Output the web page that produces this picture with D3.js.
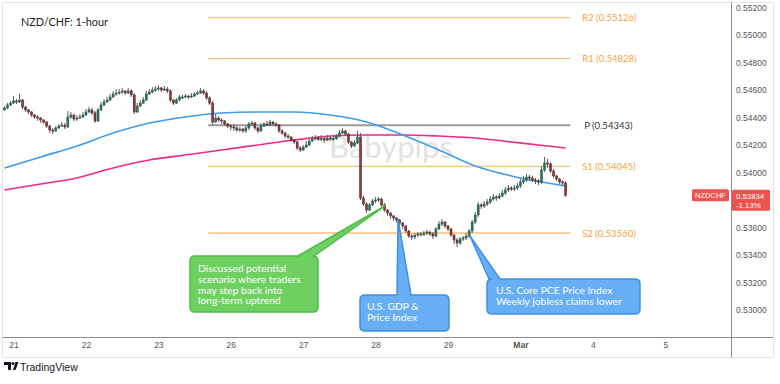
<!DOCTYPE html>
<html><head><meta charset="utf-8">
<script src="https://cdn.jsdelivr.net/npm/d3@7"></script>
<style>body{margin:0;background:#fff;} svg{display:block;}</style>
</head><body>
<svg id="c" width="780" height="384"></svg>
<script>
// ---------------- DATA ----------------
const title = "NZD/CHF: 1-hour";
const firstOpen = 0.54455;
const closes = [
 0.54469,0.54491,0.54505,0.54520,0.54513,0.54527,0.54476,0.54455,0.54440,0.54418,0.54404,0.54396,
 0.54382,0.54367,0.54338,0.54309,0.54302,0.54324,0.54338,0.54345,0.54331,0.54404,0.54418,0.54389,
 0.54396,0.54404,0.54418,0.54440,0.54455,0.54433,0.54375,0.54455,0.54491,0.54513,0.54527,0.54549,
 0.54571,0.54578,0.54585,0.54593,0.54578,0.54593,0.54564,0.54440,0.54484,0.54505,0.54527,0.54571,
 0.54585,0.54600,0.54607,0.54615,0.54600,0.54607,0.54593,0.54527,0.54505,0.54527,0.54549,0.54549,
 0.54556,0.54549,0.54556,0.54571,0.54578,0.54593,0.54578,0.54542,0.54505,0.54367,0.54396,0.54382,
 0.54375,0.54353,0.54338,0.54331,0.54324,0.54309,0.54316,0.54302,0.54324,0.54353,0.54360,0.54324,
 0.54302,0.54338,0.54353,0.54345,0.54367,0.54353,0.54345,0.54302,0.54287,0.54265,0.54258,0.54236,
 0.54222,0.54178,0.54164,0.54185,0.54200,0.54229,0.54244,0.54251,0.54240,0.54246,0.54236,0.54251,
 0.54242,0.54247,0.54265,0.54287,0.54302,0.54280,0.54222,0.54193,0.54215,0.54258,0.53815,0.53771,
 0.53727,0.53764,0.53793,0.53800,0.53807,0.53764,0.53727,0.53705,0.53684,0.53669,0.53655,0.53633,
 0.53611,0.53575,0.53538,0.53531,0.53545,0.53553,0.53548,0.53560,0.53567,0.53553,0.53538,0.53589,
 0.53625,0.53640,0.53611,0.53589,0.53545,0.53509,0.53487,0.53516,0.53524,0.53538,0.53575,0.53640,
 0.53691,0.53764,0.53756,0.53771,0.53785,0.53807,0.53822,0.53815,0.53829,0.53851,0.53873,0.53887,
 0.53880,0.53887,0.53902,0.53931,0.53945,0.53967,0.53960,0.53945,0.53938,0.53931,0.54018,0.54069,
 0.54062,0.54011,0.53975,0.53953,0.53931,0.53924,0.53834];
const highs = [
 0.54484,0.54505,0.54520,0.54556,0.54535,0.54571,0.54535,0.54484,0.54462,0.54447,0.54425,0.54418,
 0.54404,0.54389,0.54375,0.54345,0.54324,0.54338,0.54353,0.54367,0.54360,0.54447,0.54440,0.54425,
 0.54418,0.54425,0.54440,0.54462,0.54476,0.54469,0.54447,0.54469,0.54513,0.54535,0.54549,0.54571,
 0.54593,0.54607,0.54607,0.54615,0.54600,0.54615,0.54607,0.54578,0.54505,0.54527,0.54549,0.54593,
 0.54607,0.54622,0.54629,0.54636,0.54622,0.54629,0.54622,0.54607,0.54535,0.54542,0.54564,0.54564,
 0.54571,0.54564,0.54578,0.54585,0.54593,0.54615,0.54607,0.54593,0.54556,0.54520,0.54425,0.54411,
 0.54396,0.54382,0.54360,0.54353,0.54353,0.54338,0.54331,0.54324,0.54338,0.54367,0.54375,0.54367,
 0.54331,0.54360,0.54367,0.54375,0.54382,0.54375,0.54367,0.54353,0.54316,0.54295,0.54280,0.54265,
 0.54244,0.54229,0.54193,0.54200,0.54229,0.54244,0.54265,0.54273,0.54265,0.54273,0.54258,0.54273,
 0.54265,0.54265,0.54280,0.54309,0.54324,0.54309,0.54287,0.54229,0.54236,0.54302,0.54287,0.53829,
 0.53785,0.53778,0.53807,0.53822,0.53822,0.53815,0.53778,0.53735,0.53713,0.53691,0.53676,0.53662,
 0.53640,0.53618,0.53582,0.53553,0.53560,0.53567,0.53567,0.53575,0.53582,0.53575,0.53567,0.53604,
 0.53647,0.53662,0.53647,0.53618,0.53596,0.53553,0.53524,0.53531,0.53538,0.53560,0.53589,0.53655,
 0.53713,0.53785,0.53778,0.53793,0.53807,0.53829,0.53844,0.53836,0.53851,0.53873,0.53895,0.53909,
 0.53902,0.53909,0.53924,0.53953,0.53975,0.53989,0.53982,0.53975,0.53960,0.53953,0.54047,0.54113,
 0.54098,0.54076,0.54025,0.53982,0.53960,0.53945,0.53938];
const lows = [
 0.54447,0.54462,0.54484,0.54498,0.54498,0.54505,0.54462,0.54440,0.54425,0.54404,0.54389,0.54375,
 0.54360,0.54353,0.54324,0.54287,0.54280,0.54295,0.54316,0.54331,0.54316,0.54324,0.54389,0.54375,
 0.54375,0.54389,0.54396,0.54411,0.54433,0.54418,0.54360,0.54367,0.54447,0.54484,0.54505,0.54520,
 0.54542,0.54556,0.54564,0.54571,0.54564,0.54571,0.54549,0.54425,0.54433,0.54476,0.54498,0.54520,
 0.54564,0.54578,0.54585,0.54593,0.54585,0.54593,0.54578,0.54513,0.54491,0.54498,0.54520,0.54535,
 0.54542,0.54535,0.54542,0.54549,0.54564,0.54571,0.54564,0.54527,0.54491,0.54345,0.54360,0.54367,
 0.54353,0.54338,0.54324,0.54309,0.54302,0.54295,0.54295,0.54287,0.54287,0.54309,0.54338,0.54309,
 0.54287,0.54295,0.54331,0.54338,0.54338,0.54338,0.54331,0.54287,0.54273,0.54251,0.54244,0.54222,
 0.54207,0.54164,0.54149,0.54156,0.54178,0.54193,0.54222,0.54236,0.54229,0.54229,0.54215,0.54229,
 0.54229,0.54229,0.54236,0.54258,0.54280,0.54265,0.54207,0.54178,0.54185,0.54207,0.53800,0.53756,
 0.53705,0.53720,0.53756,0.53778,0.53785,0.53749,0.53713,0.53684,0.53662,0.53647,0.53633,0.53618,
 0.53589,0.53560,0.53524,0.53509,0.53516,0.53531,0.53538,0.53538,0.53545,0.53538,0.53516,0.53531,
 0.53582,0.53611,0.53596,0.53575,0.53531,0.53480,0.53458,0.53473,0.53502,0.53509,0.53524,0.53560,
 0.53625,0.53676,0.53735,0.53742,0.53756,0.53771,0.53793,0.53793,0.53807,0.53822,0.53836,0.53858,
 0.53866,0.53866,0.53873,0.53887,0.53916,0.53931,0.53938,0.53931,0.53916,0.53909,0.53916,0.54004,
 0.54033,0.53996,0.53960,0.53938,0.53916,0.53902,0.53822];

// moving averages sampled every 12 bars
const maIndex = [0,12,24,36,48,60,72,84,96,108,120,132,144,156,168,180,186];
const maBlue  = [0.54033,0.54113,0.54193,0.54287,0.54360,0.54404,0.54433,0.54440,0.54440,0.54418,0.54367,0.54273,0.54164,0.54047,0.53975,0.53924,0.53902];
const maPink  = [0.53873,0.53916,0.53960,0.54033,0.54091,0.54127,0.54164,0.54200,0.54236,0.54265,0.54273,0.54273,0.54265,0.54251,0.54222,0.54193,0.54178];

const pivotNames  = ["R2","R1","P","S1","S2"];
const pivotValues = [0.55126,0.54828,0.54343,0.54045,0.53560];

const dayLabels = ["21","22","23","26","27","28","29","Mar","4","5"];
const priceTicks = [0.530,0.532,0.534,0.536,0.540,0.542,0.544,0.546,0.548,0.550,0.552];
const symbol = "NZDCHF";
const lastPrice = 0.53834;
const changeText = "-1.13%";

const callouts = [
  {lines:["Discussed potential","scenario where traders","may step back into","long-term uptrend"], kind:"green"},
  {lines:["U.S. GDP &","Price Index"], kind:"blue"},
  {lines:["U.S. Core PCE Price Index","Weekly jobless claims lower"], kind:"blue"}
];

// ---------------- DRAW ----------------
const svg = d3.select("#c");
const x = d3.scaleLinear().domain([0, 240]).range([4.5, 728.6]);
const y = d3.scaleLinear().domain([0.530, 0.552]).range([310, 7.5]);
const FONT = "Lato, 'Open Sans', sans-serif";
const AX = "'Liberation Sans', Arial, sans-serif";

// frame
svg.append("rect").attr("x",2.5).attr("y",2.5).attr("width",771).attr("height",355)
  .attr("fill","#fff").attr("stroke","#e0e3eb");

svg.append("clipPath").attr("id","clipP").append("rect").attr("x",3).attr("y",3).attr("width",728).attr("height",334);
const plot = svg.append("g").attr("clip-path","url(#clipP)");

// watermark
plot.append("text").attr("x",391).attr("y",158).attr("text-anchor","middle")
  .attr("font-family",FONT).attr("font-size",31).attr("fill","#e3e3e3").text("Babypips");

// pivot lines
const pStart = 67.5, pEnd = 187.5;
pivotNames.forEach((n,k)=>{
  const isP = n === "P";
  plot.append("line").attr("x1",x(pStart)).attr("x2",x(pEnd))
    .attr("y1",y(pivotValues[k])).attr("y2",y(pivotValues[k]))
    .attr("stroke", isP ? "#9a9a9a" : "#ffc07a").attr("stroke-width", isP ? 2 : 1.3);
  plot.append("text").attr("x", x(pEnd)+ (isP?14:12)).attr("y",y(pivotValues[k])+3.5)
    .attr("font-family",FONT).attr("font-size",9.5).attr("fill", isP ? "#333" : "#f6a23c")
    .text(`${n} (${pivotValues[k].toFixed(5)})`);
});

// moving averages
const maLine = d3.line().x((d,i)=>x(maIndex[i])).y(d=>y(d)).curve(d3.curveMonotoneX);
plot.append("path").datum(maPink).attr("d",maLine).attr("fill","none").attr("stroke","#f0288c").attr("stroke-width",1.6);
plot.append("path").datum(maBlue).attr("d",maLine).attr("fill","none").attr("stroke","#3d9cf0").attr("stroke-width",1.6);

// candles
const bars = closes.map((c,i)=>{
  const o = i===0 ? firstOpen : closes[i-1];
  return {i, o, c, h: Math.max(highs[i], o, c), l: Math.min(lows[i], o, c)};
});
const cg = plot.append("g");
cg.selectAll("line.w").data(bars).join("line").attr("class","w")
  .attr("x1",d=>x(d.i)).attr("x2",d=>x(d.i)).attr("y1",d=>y(d.h)).attr("y2",d=>y(d.l))
  .attr("stroke","#5d5d5d").attr("stroke-width",1);
cg.selectAll("rect.b").data(bars).join("rect").attr("class","b")
  .attr("x",d=>x(d.i)-1).attr("width",2)
  .attr("y",d=>y(Math.max(d.o,d.c))).attr("height",d=>Math.max(1, Math.abs(y(d.o)-y(d.c))))
  .attr("fill",d=>d.c>=d.o ? "#2a7863" : "#8e3a36")
  .attr("stroke",d=>d.c>=d.o ? "#1d4f42" : "#4d1f1c").attr("stroke-width",0.5);

// axes lines
svg.append("line").attr("x1",731.5).attr("x2",731.5).attr("y1",2.5).attr("y2",357).attr("stroke","#8a8d96");
svg.append("line").attr("x1",2.5).attr("x2",773).attr("y1",337.5).attr("y2",337.5).attr("stroke","#8a8d96");

// y axis labels
const yAxis = d3.axisRight(y).tickValues(priceTicks).tickSize(0).tickPadding(4).tickFormat(d3.format(".5f"));
const ya = svg.append("g").attr("transform","translate(732,0)").call(yAxis);
ya.select(".domain").remove();
ya.selectAll("text").attr("font-family",AX).attr("font-size",8.5).attr("fill","#555");

// x axis labels
const dayIdx = dayLabels.map((d,k)=>3+24*k);
const xAxis = d3.axisBottom(x).tickValues(dayIdx).tickSize(0).tickPadding(5).tickFormat((d,k)=>dayLabels[k]);
const xa = svg.append("g").attr("transform","translate(0,337)").call(xAxis);
xa.select(".domain").remove();
xa.selectAll("text").attr("font-family",AX).attr("font-size",8.5).attr("fill","#555")
  .attr("font-weight",(d,k)=>dayLabels[k]==="Mar"?"bold":"normal");

// price tags
const ty0 = y(lastPrice);
svg.append("rect").attr("x",692).attr("y",ty0-6).attr("width",37).attr("height",12).attr("rx",1.5).attr("fill","#ef5350");
svg.append("text").attr("x",710.5).attr("y",ty0+2.8).attr("text-anchor","middle").attr("font-family",AX)
  .attr("font-size",7.5).attr("fill","#fff").text(symbol);
svg.append("rect").attr("x",732).attr("y",ty0-5.5).attr("width",38).attr("height",21).attr("rx",1.5).attr("fill","#ef5350");
svg.append("text").attr("x",736).attr("y",ty0+3.2).attr("font-family",AX)
  .attr("font-size",7.8).attr("fill","#fff").text(lastPrice.toFixed(5));
svg.append("text").attr("x",736).attr("y",ty0+12.2).attr("font-family",AX)
  .attr("font-size",7.8).attr("fill","#fff").text(changeText);

// title
svg.append("text").attr("x",21).attr("y",25.5).attr("font-family",FONT).attr("font-size",10.8).attr("fill","#222").text(title);

// callouts
function callout(box, base, tip, fill, stroke, lines, tx, ty, lh){
  const [x0,y0,x1,y1] = box, r = 5;
  const p = d3.path();
  p.moveTo(x0+r,y0); p.lineTo(base[0],y0); p.lineTo(tip[0],tip[1]); p.lineTo(base[1],y0);
  p.lineTo(x1-r,y0); p.quadraticCurveTo(x1,y0,x1,y0+r); p.lineTo(x1,y1-r);
  p.quadraticCurveTo(x1,y1,x1-r,y1); p.lineTo(x0+r,y1); p.quadraticCurveTo(x0,y1,x0,y1-r);
  p.lineTo(x0,y0+r); p.quadraticCurveTo(x0,y0,x0+r,y0); p.closePath();
  svg.append("path").attr("d",p.toString()).attr("fill",fill).attr("stroke",stroke).attr("stroke-width",1.5).attr("stroke-linejoin","round");
  const t = svg.append("text").attr("font-family",FONT).attr("font-size",10.3).attr("fill","#fff");
  lines.forEach((s,k)=>t.append("tspan").attr("x",tx).attr("y",ty+k*lh).text(s));
}
callout([190,256,318,312],[298,314],[385,206],"#6fd062","#4cbc44",callouts[0].lines,198,272,10.8);
callout([360,295,449,331],[397,411],[398,219],"#68aef5","#3f8fe6",callouts[1].lines,367,310,11);
callout([487,279,640,314],[489,500],[470,236],"#68aef5","#3f8fe6",callouts[2].lines,496,294,11);

// TradingView logo
const lg = svg.append("g").attr("transform","translate(4,362)");
lg.append("path").attr("d","M0,0 H7 V8 H4 V3 H0 Z").attr("fill","#131722");
lg.append("circle").attr("cx",9).attr("cy",1.5).attr("r",1.5).attr("fill","#131722");
lg.append("path").attr("d","M9,8 L11.5,0 H14.5 L11.5,8 Z").attr("fill","#131722");
svg.append("text").attr("x",20).attr("y",370.5).attr("font-family","'Liberation Sans Narrow','Liberation Sans',Arial,sans-serif")
  .attr("font-size",10.5).attr("fill","#131722").text("TradingView");
</script>
</body></html>
